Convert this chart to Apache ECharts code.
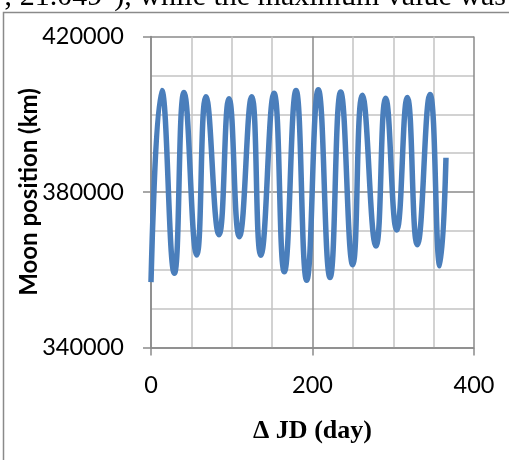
<!DOCTYPE html>
<html>
<head>
<meta charset="utf-8">
<script src="https://cdn.jsdelivr.net/npm/echarts@6/dist/echarts.min.js"></script>
<style>
html,body{margin:0;padding:0;background:#fff;}
#chart{width:509px;height:460px;}
</style>
</head>
<body>
<div id="chart"></div>
<script>
// Δ JD (day) of read-off points (troughs, peaks, end)
var days = [0, 13.3, 28.9, 40.9, 56.6, 68.1, 84.2, 96.6, 109.4, 124.7, 136.0, 152.3, 165.1, 179.6, 192.8, 207.2, 221.7, 234.9, 249.8, 261.7, 278.6, 290.6, 304.3, 317.4, 329.8, 345.5, 357.9, 365.3];
// Moon position (km)
var distances = [356800, 406100, 359100, 405600, 363800, 404500, 369000, 404000, 368500, 404500, 363700, 405400, 359500, 406100, 357300, 406300, 358000, 405700, 361300, 404900, 366100, 404100, 370200, 404300, 366400, 405100, 361000, 388800];
var xTicks = [0, 200, 400];
var yTicks = [340000, 380000, 420000];
var yAxisTitle = 'Moon position (km)';
var xAxisTitle = '\u0394 JD (day)';
var topText = '; 21.049\u00b0), while the maximum value was';

var chart = echarts.init(document.getElementById('chart'), null, {renderer: 'canvas'});
var seriesData = days.map(function (d, i) { return [d, distances[i]]; });
var dark = '#8a8a8a', light = '#c4c4c4';
function plain(v) { return String(v); }
chart.setOption({
  animation: false,
  backgroundColor: '#fff',
  graphic: [
    {type: 'rect', shape: {x: 3.5, y: 12.5, width: 600, height: 600}, style: {fill: 'none', stroke: '#8a8a8a', lineWidth: 1.5}, z: -10},
    {type: 'text', x: 4, y: -17.5, style: {text: topText, fontFamily: 'Liberation Serif', fontSize: 30, fill: '#000', verticalAlign: 'top', align: 'left'}}
  ],
  grid: {left: 151, right: 35, top: 36.5, bottom: 112.5, containLabel: false, outerBoundsMode: 'none'},
  xAxis: {
    type: 'value', min: xTicks[0], max: xTicks[xTicks.length - 1], interval: xTicks[1] - xTicks[0],
    name: xAxisTitle, nameLocation: 'middle', nameGap: 71, nameMoveOverlap: false,
    nameTextStyle: {fontFamily: 'Liberation Serif', fontWeight: 'bold', fontSize: 26, color: '#000'},
    axisLine: {show: true, lineStyle: {color: dark, width: 1.5}},
    axisTick: {show: true, inside: false, length: 8, lineStyle: {color: dark, width: 1.5}},
    axisLabel: {margin: 26, fontFamily: 'Lato', fontSize: 23.5, color: '#000', formatter: plain},
    splitLine: {show: true, lineStyle: {color: dark, width: 1.5}},
    minorTick: {show: false, splitNumber: 4},
    minorSplitLine: {show: true, lineStyle: {color: light, width: 1.5}}
  },
  yAxis: {
    type: 'value', min: yTicks[0], max: yTicks[yTicks.length - 1], interval: yTicks[1] - yTicks[0],
    name: yAxisTitle, nameLocation: 'middle', nameGap: 110, nameRotate: 90, nameMoveOverlap: false,
    nameTextStyle: {fontFamily: 'Lato', fontWeight: 'bold', fontSize: 24, color: '#000'},
    axisLine: {show: true, lineStyle: {color: dark, width: 1.5}},
    axisTick: {show: true, inside: false, length: 8, lineStyle: {color: dark, width: 1.5}},
    axisLabel: {margin: 27, fontFamily: 'Lato', fontSize: 23.5, color: '#000', formatter: plain},
    splitLine: {show: true, lineStyle: {color: dark, width: 1.5}},
    minorTick: {show: false, splitNumber: 4},
    minorSplitLine: {show: true, lineStyle: {color: light, width: 1.5}}
  },
  series: [{
    type: 'line', data: seriesData, smooth: 0.5, showSymbol: false,
    lineStyle: {color: '#4a7ebb', width: 5.5}, z: 5
  }]
});
</script>
</body>
</html>
